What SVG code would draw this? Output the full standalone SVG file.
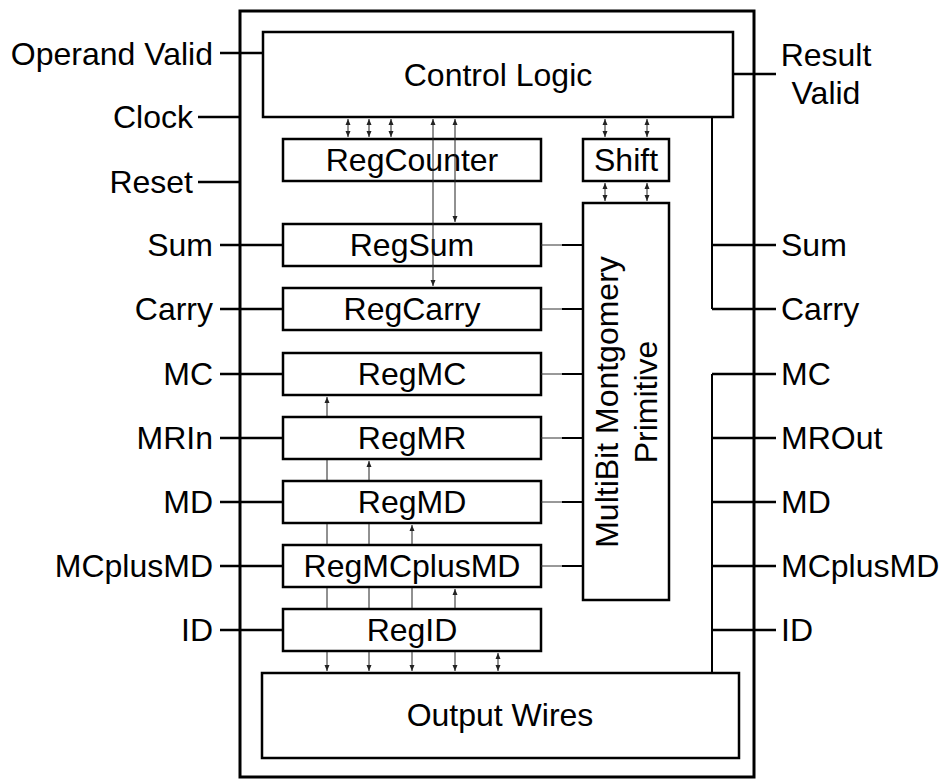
<svg xmlns="http://www.w3.org/2000/svg" width="943" height="779" viewBox="0 0 943 779">
<style>
text{font-family:"Liberation Sans",Arial,sans-serif;font-size:32px;fill:#000}
.box{fill:#fff;stroke:#000;stroke-width:2.5}
.outer{fill:none;stroke:#000;stroke-width:3}
.sig{fill:none;stroke:#000;stroke-width:2.5}
.bus{fill:none;stroke:#000;stroke-width:2}
.thin{fill:none;stroke:#333;stroke-width:1}
.arr{fill:none;stroke:#222;stroke-width:1;marker-end:url(#ah)}
.arr2{fill:none;stroke:#222;stroke-width:1;marker-start:url(#ah);marker-end:url(#ah)}
.c{text-anchor:middle}
.e{text-anchor:end}
</style>
<defs>
<marker id="ah" viewBox="0 0 6 6" refX="6" refY="3" markerWidth="6" markerHeight="6" markerUnits="userSpaceOnUse" orient="auto-start-reverse"><path d="M0,0.5 L6,3 L0,5.5 z" fill="#222"/></marker>
</defs>
<rect width="943" height="779" fill="#fff"/>
<g id="outer"><rect class="outer" x="240" y="11" width="514" height="766"/></g>
<g id="io-lines">
<path class="sig" d="M220,53 L263,53 M198,117 L240,117 M198,182 L240,182"/>
<path class="sig" d="M220,245 L283,245 M220,309 L283,309 M220,374 L283,374 M220,438 L283,438 M220,502 L283,502 M220,566 L283,566 M220,630 L283,630"/>
<path class="sig" d="M733,74 L776,74"/>
<path class="sig" d="M712,245 L776,245 M712,309 L776,309 M712,374 L776,374 M712,438 L776,438 M712,502 L776,502 M712,566 L776,566 M712,630 L776,630"/>
<path class="bus" d="M712,117 L712,309 M712,673 L712,374"/>
</g>
<g id="labels">
<text class="e" x="213" y="65">Operand Valid</text>
<text class="e" x="193" y="128">Clock</text>
<text class="e" x="193" y="193">Reset</text>
<text class="e" x="213" y="256">Sum</text>
<text class="e" x="213" y="320">Carry</text>
<text class="e" x="213" y="385">MC</text>
<text class="e" x="213" y="449">MRIn</text>
<text class="e" x="213" y="513">MD</text>
<text class="e" x="213" y="577">MCplusMD</text>
<text class="e" x="213" y="641">ID</text>
<text class="c" x="826" y="66">Result</text>
<text class="c" x="826" y="104">Valid</text>
<text x="781" y="256">Sum</text>
<text x="781" y="320">Carry</text>
<text x="781" y="385">MC</text>
<text x="781" y="449">MROut</text>
<text x="781" y="513">MD</text>
<text x="781" y="577">MCplusMD</text>
<text x="781" y="641">ID</text>
</g>
<g id="control"><rect class="box" x="263" y="32" width="470" height="85"/><text class="c" x="498" y="86">Control Logic</text></g>
<g id="regcounter"><rect class="box" x="283" y="139" width="258" height="42"/><text class="c" x="412" y="171">RegCounter</text></g>
<g id="shift"><rect class="box" x="583" y="139" width="86" height="42"/><text class="c" x="626" y="171">Shift</text></g>
<g id="regsum"><rect class="box" x="283" y="224" width="258" height="42"/><text class="c" x="412" y="256">RegSum</text></g>
<g id="regcarry"><rect class="box" x="283" y="288" width="258" height="42"/><text class="c" x="412" y="320">RegCarry</text></g>
<g id="regmc"><rect class="box" x="283" y="353" width="258" height="42"/><text class="c" x="412" y="385">RegMC</text></g>
<g id="regmr"><rect class="box" x="283" y="417" width="258" height="42"/><text class="c" x="412" y="449">RegMR</text></g>
<g id="regmd"><rect class="box" x="283" y="481" width="258" height="42"/><text class="c" x="412" y="513">RegMD</text></g>
<g id="regmcplusmd"><rect class="box" x="283" y="545" width="258" height="42"/><text class="c" x="412" y="577">RegMCplusMD</text></g>
<g id="regid"><rect class="box" x="283" y="609" width="258" height="42"/><text class="c" x="412" y="641">RegID</text></g>
<g id="multibit"><rect class="box" x="583" y="203" width="86" height="397"/>
<g transform="translate(626,402) rotate(-90)"><text class="c" x="0" y="-8">MultiBit Montgomery</text><text class="c" x="0" y="31">Primitive</text></g></g>
<g id="output"><rect class="box" x="262" y="673" width="477" height="85"/><text class="c" x="500" y="726">Output Wires</text></g>
<g id="connectors">
<path class="arr2" d="M348,119 L348,137"/>
<path class="arr2" d="M369,119 L369,137"/>
<path class="arr2" d="M391,119 L391,137"/>
<path class="arr2" d="M433,119 L433,286"/>
<path class="arr2" d="M455,119 L455,222"/>
<path class="arr2" d="M605,119 L605,137"/>
<path class="arr2" d="M647,119 L647,137"/>
<path class="arr2" d="M605,183 L605,201"/>
<path class="arr2" d="M647,183 L647,201"/>
<path class="thin" d="M541,245 L562,245 M541,309 L562,309 M541,374 L562,374 M541,438 L562,438 M541,502 L562,502 M541,566 L562,566"/>
<path class="bus" d="M562,245 L583,245 M562,309 L583,309 M562,374 L583,374 M562,438 L583,438 M562,502 L583,502 M562,566 L583,566"/>
<path class="arr" d="M327,608 L327,588 M327,544 L327,524 M327,480 L327,460 M327,416 L327,397"/>
<path class="arr" d="M369,608 L369,588 M369,544 L369,524 M369,480 L369,461"/>
<path class="arr" d="M412,608 L412,588 M412,544 L412,525"/>
<path class="arr" d="M455,608 L455,589"/>
<path class="arr" d="M327,652 L327,671"/>
<path class="arr" d="M369,652 L369,671"/>
<path class="arr" d="M412,652 L412,671"/>
<path class="arr" d="M455,652 L455,671"/>
<path class="arr2" d="M498,653 L498,671"/>
</g>
</svg>
